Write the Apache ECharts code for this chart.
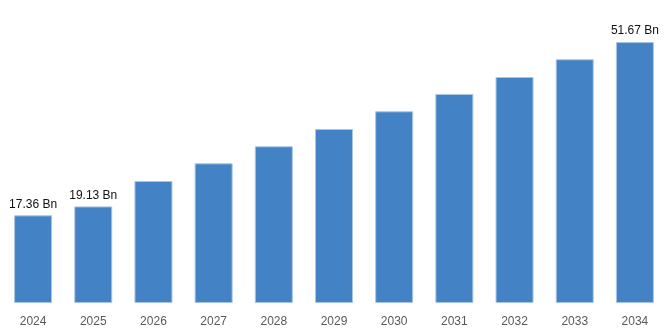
<!DOCTYPE html>
<html>
<head>
<meta charset="utf-8">
<script src="https://cdn.jsdelivr.net/npm/echarts@6/dist/echarts.min.js"></script>
<style>
  html, body { margin: 0; padding: 0; background: #ffffff; }
  #chart { width: 668px; height: 334px; }
</style>
</head>
<body>
<div id="chart"></div>
<script>
// Market size by year, in billions
const years = ['2024', '2025', '2026', '2027', '2028', '2029', '2030', '2031', '2032', '2033', '2034'];
const marketSize = [17.36, 19.13, 24.16, 27.66, 31.03, 34.46, 37.96, 41.39, 44.75, 48.26, 51.67];
// Years whose bar carries a value label
const labelledYears = ['2024', '2025', '2034'];

const chart = echarts.init(document.getElementById('chart'), null, { renderer: 'canvas' });

chart.setOption({
  animation: false,
  backgroundColor: '#ffffff',
  grid: { left: 3, right: 3, top: 0, bottom: 31, containLabel: false },
  xAxis: {
    type: 'category',
    data: years,
    axisLine: { show: false },
    axisTick: { show: false },
    axisLabel: {
      color: '#595959',
      fontFamily: 'Liberation Sans, Arial, sans-serif',
      fontSize: 12,
      margin: 13
    }
  },
  yAxis: {
    type: 'value',
    min: 0,
    max: 60,
    show: false,
    splitLine: { show: false }
  },
  series: [{
    type: 'bar',
    barWidth: 38,
    data: marketSize.map((v, i) => ({
      value: v,
      label: { show: labelledYears.includes(years[i]) }
    })),
    itemStyle: {
      color: '#4282c5',
      borderColor: '#a8c5e6',
      borderWidth: 1
    },
    label: {
      position: 'top',
      distance: 5,
      color: '#111111',
      fontFamily: 'Liberation Sans, Arial, sans-serif',
      fontSize: 12,
      formatter: p => p.value.toFixed(2) + ' Bn'
    }
  }]
});
</script>
</body>
</html>
